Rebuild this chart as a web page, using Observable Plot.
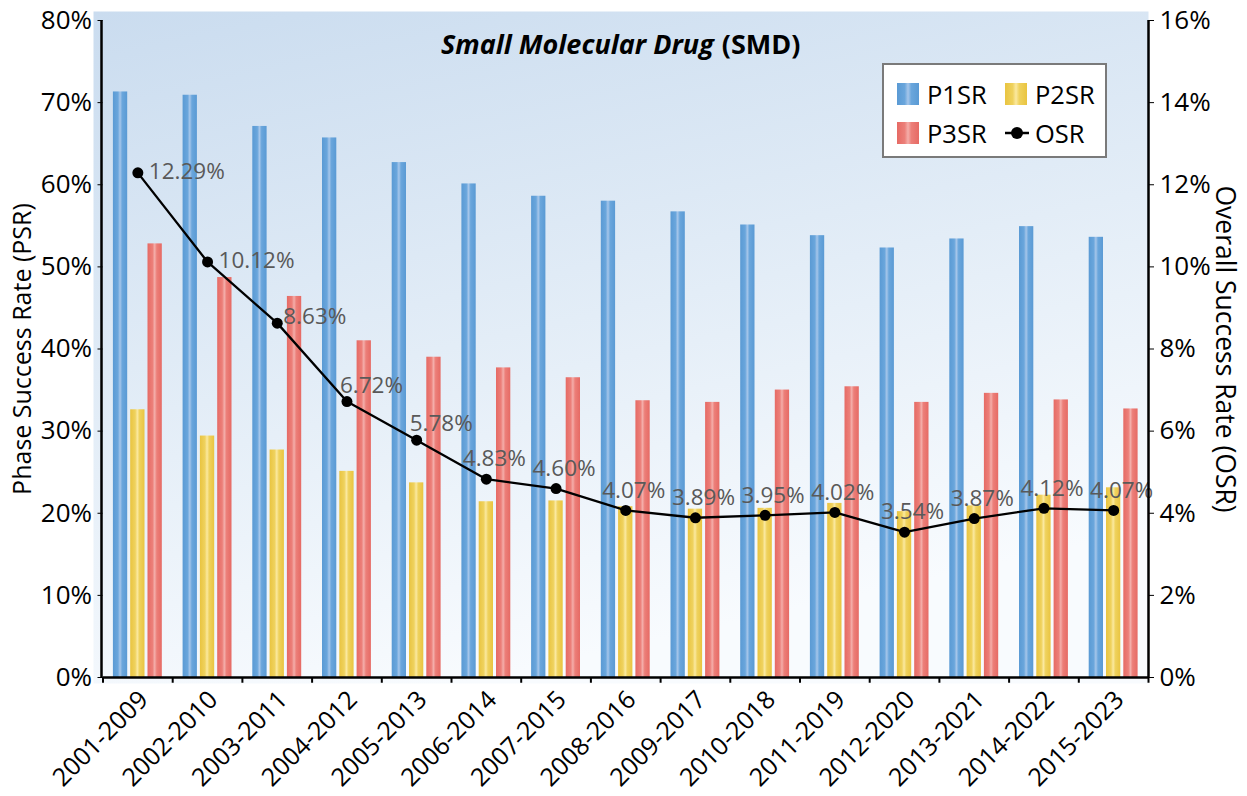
<!DOCTYPE html>
<html>
<head>
<meta charset="utf-8">
<script src="https://cdn.jsdelivr.net/npm/d3@7"></script>
<script src="https://cdn.jsdelivr.net/npm/@observablehq/plot@0.6"></script>
<style>
  html, body { margin: 0; padding: 0; background: #fff; }
  #wrap { position: relative; width: 1247px; height: 796px; overflow: hidden; }
  #wrap svg { position: absolute; left: 0; top: 0; }
  .legend { position: absolute; left: 882px; top: 63px; width: 225px; height: 95px; box-sizing: border-box;
            border: 2px solid #7a7a7a; background: #fff; font-family: "Open Sans", sans-serif; font-size: 25.5px; color: #000; }
  .legend .item { position: absolute; height: 26px; line-height: 26px; display: flex; align-items: center; white-space: nowrap; }
  .legend .sw { display: inline-block; width: 22px; height: 22px; margin-right: 8px; }
  .sw.blue { background: linear-gradient(to right, #5a9ad4 0%, #6aa6dc 35%, #a6c6ea 50%, #6aa6dc 65%, #5a9ad4 100%); }
  .sw.yellow { background: linear-gradient(to right, #e9c440 0%, #efd25e 35%, #fbe9a0 50%, #efd25e 65%, #e9c440 100%); }
  .sw.red { background: linear-gradient(to right, #e66a64 0%, #ec7f79 35%, #f4aeaa 50%, #ec7f79 65%, #e66a64 100%); }
</style>
</head>
<body>
<div id="wrap">
  <div class="legend">
    <div class="item" style="left:13px;top:16px"><span class="sw blue"></span>P1SR</div>
    <div class="item" style="left:121px;top:16px"><span class="sw yellow"></span>P2SR</div>
    <div class="item" style="left:13px;top:55px"><span class="sw red"></span>P3SR</div>
    <div class="item" style="left:120px;top:55px"><svg width="26" height="22" style="position:static;margin-right:5px"><line x1="1" y1="11" x2="25" y2="11" stroke="#000" stroke-width="2.5"/><circle cx="13" cy="11" r="6" fill="#000"/></svg>OSR</div>
  </div>
</div>
<script>
// ---- Data ----
const categories = ["2001-2009","2002-2010","2003-2011","2004-2012","2005-2013","2006-2014","2007-2015","2008-2016",
                    "2009-2017","2010-2018","2011-2019","2012-2020","2013-2021","2014-2022","2015-2023"];
const p1sr = [71.3, 70.9, 67.1, 65.7, 62.7, 60.1, 58.6, 58.0, 56.7, 55.1, 53.8, 52.3, 53.4, 54.9, 53.6];
const p2sr = [32.6, 29.4, 27.7, 25.1, 23.7, 21.4, 21.5, 20.8, 20.5, 20.6, 21.2, 20.2, 20.9, 22.2, 23.1];
const p3sr = [52.8, 48.7, 46.4, 41.0, 39.0, 37.7, 36.5, 33.7, 33.5, 35.0, 35.4, 33.5, 34.6, 33.8, 32.7];
const osr  = [12.29, 10.12, 8.63, 6.72, 5.78, 4.83, 4.60, 4.07, 3.89, 3.95, 4.02, 3.54, 3.87, 4.12, 4.07];
const leftTicks  = [0, 10, 20, 30, 40, 50, 60, 70, 80];   // Phase Success Rate (%)
const rightTicks = [0, 2, 4, 6, 8, 10, 12, 14, 16];      // Overall Success Rate (%)
const leftTitle  = "Phase Success Rate (PSR)";
const rightTitle = "Overall Success Rate (OSR)";
const titleItalic = "Small Molecular Drug";
const titlePlain  = "(SMD)";

// ---- Derived table ----
const psrMax = leftTicks[leftTicks.length - 1];
const osrMax = rightTicks[rightTicks.length - 1];
const rows = categories.map((c, i) => ({
  cat: c, i, p1: p1sr[i], p2: p2sr[i], p3: p3sr[i], osr: osr[i],
  osrY: osr[i] * psrMax / osrMax, label: osr[i].toFixed(2) + "%"
}));

// ---- Layout ----
const W = 1247, H = 796;
const mL = 102.5, mR = 99, mT = 20, mB = 119;
const bw = (W - mL - mR) / categories.length;
const barW = 14.3, step = 17.3;
const inset = (bw - barW) / 2;
const first = categories[0], last = categories[categories.length - 1];
const FONT = "'Open Sans', sans-serif";
const LBL = { fill: "#595959", fontSize: 22.5, fontFamily: FONT };

const svg = Plot.plot({
  width: W, height: H,
  marginLeft: mL, marginRight: mR, marginTop: mT, marginBottom: mB,
  style: { fontFamily: FONT, fontSize: "26px", color: "#000", background: "transparent", overflow: "visible" },
  x: { type: "band", domain: categories, padding: 0, round: false },
  y: { domain: [0, psrMax] },
  marks: [
    Plot.frame({ fill: "url(#bgGrad)", stroke: null, insetLeft: -9.5, insetTop: -9, insetBottom: -6 }),
    Plot.barY(rows, { x: "cat", y: "p1", fill: "url(#gBlue)", insetLeft: inset, insetRight: inset, dx: -step }),
    Plot.barY(rows, { x: "cat", y: "p2", fill: "url(#gYellow)", insetLeft: inset, insetRight: inset }),
    Plot.barY(rows, { x: "cat", y: "p3", fill: "url(#gRed)", insetLeft: inset, insetRight: inset, dx: step }),
    Plot.line(rows, { x: "cat", y: "osrY", stroke: "#000", strokeWidth: 2.3 }),
    Plot.dot(rows, { x: "cat", y: "osrY", r: 5.5, fill: "#000", stroke: null }),
    // OSR data labels
    Plot.text(rows, { filter: d => d.i <= 1, x: "cat", y: "osrY", text: "label", textAnchor: "start", dx: 11, dy: -1, ...LBL }),
    Plot.text(rows, { filter: d => d.i === 2, x: "cat", y: "osrY", text: "label", textAnchor: "start", dx: 6, dy: -6, ...LBL }),
    Plot.text(rows, { filter: d => d.i === 3 || d.i === 4, x: "cat", y: "osrY", text: "label", textAnchor: "start", dx: -7, dy: -16, ...LBL }),
    Plot.text(rows, { filter: d => d.i >= 5, x: "cat", y: "osrY", text: "label", textAnchor: "middle", dx: 8, dy: -20, ...LBL }),
    // axes
    Plot.axisY({ anchor: "left", ticks: leftTicks, tickFormat: d => d + "%", tickSize: 5, tickPadding: 6, label: null, fontSize: 26 }),
    Plot.axisY({ anchor: "right", ticks: leftTicks, tickFormat: d => rightTicks[leftTicks.indexOf(d)] + "%", tickSize: 5, tickPadding: 6, label: null, fontSize: 26 }),
    Plot.axisX({ tickSize: 0, tickRotate: -45, tickPadding: 16, dx: 6, dy: 2, label: null, fontSize: 25 }),
    Plot.ruleY([0], { stroke: "#000", strokeWidth: 2.5 }),
    Plot.ruleX([first], { dx: -bw / 2 - 1.5, y1: 0, y2: psrMax, stroke: "#000", strokeWidth: 2.5 }),
    Plot.ruleX([last], { dx: bw / 2, y1: 0, y2: psrMax, stroke: "#000", strokeWidth: 2.5 }),
    Plot.ruleX(categories, { dx: -bw / 2, y1: 0, y2: -0.7, stroke: "#000", strokeWidth: 2 }),
    Plot.ruleX([last], { dx: bw / 2, y1: 0, y2: -0.7, stroke: "#000", strokeWidth: 2 }),
    // axis titles
    Plot.text([leftTitle], { frameAnchor: "left", text: d => d, rotate: -90, textAnchor: "middle", lineAnchor: "middle",
                             dx: -80, fontSize: 25, fill: "#000" }),
    Plot.text([rightTitle], { frameAnchor: "right", text: d => d, rotate: 90, textAnchor: "middle", lineAnchor: "middle",
                              dx: 76, fontSize: 26.5, fill: "#000" }),
    // chart title
    Plot.text([titleItalic], { frameAnchor: "top", text: d => d, textAnchor: "end", lineAnchor: "middle", dx: 88, dy: 25, fontSize: 27,
                               fontWeight: "bold", fontStyle: "italic", fill: "#000" }),
    Plot.text([titlePlain], { frameAnchor: "top", text: d => d, textAnchor: "start", lineAnchor: "middle", dx: 96, dy: 25, fontSize: 27,
                              fontWeight: "bold", fill: "#000" })
  ]
});

const grad = (id, c0, c1, c2) => `<linearGradient id="${id}" x1="0" y1="0" x2="1" y2="0">
  <stop offset="0" stop-color="${c0}"/><stop offset="0.35" stop-color="${c1}"/><stop offset="0.5" stop-color="${c2}"/>
  <stop offset="0.65" stop-color="${c1}"/><stop offset="1" stop-color="${c0}"/></linearGradient>`;
svg.insertAdjacentHTML("afterbegin", `<defs>
  <linearGradient id="bgGrad" x1="0" y1="0" x2="0.35" y2="1">
    <stop offset="0" stop-color="#cadcef"/><stop offset="0.55" stop-color="#e3edf7"/><stop offset="1" stop-color="#f8fbfe"/>
  </linearGradient>
  ${grad("gBlue", "#5a9ad4", "#6aa6dc", "#a6c6ea")}
  ${grad("gYellow", "#e9c440", "#efd25e", "#fbe9a0")}
  ${grad("gRed", "#e66a64", "#ec7f79", "#f4aeaa")}
</defs>`);
const wrap = document.getElementById("wrap");
wrap.insertBefore(svg, wrap.firstChild);
</script>
</body>
</html>
